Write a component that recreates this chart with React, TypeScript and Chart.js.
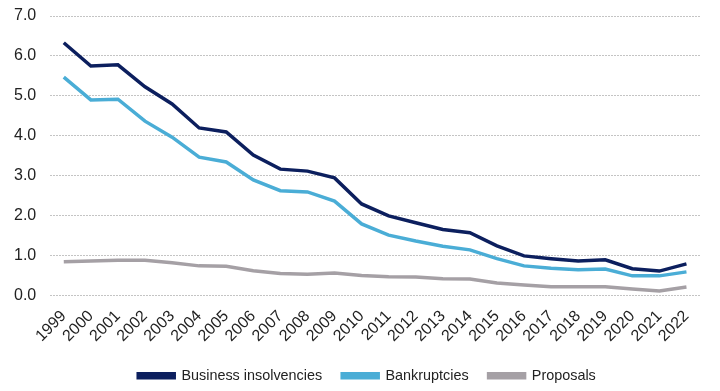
import React, { useEffect, useRef } from "react";
import { Chart, registerables } from "chart.js";

Chart.register(...registerables);

const years = ["1999","2000","2001","2002","2003","2004","2005","2006","2007","2008","2009","2010","2011","2012","2013","2014","2015","2016","2017","2018","2019","2020","2021","2022"];
const businessInsolvencies = [6.33, 5.75, 5.78, 5.23, 4.8, 4.2, 4.1, 3.52, 3.17, 3.12, 2.95, 2.3, 2.0, 1.83, 1.66, 1.58, 1.25, 1.0, 0.93, 0.87, 0.9, 0.68, 0.62, 0.8];
const bankruptcies = [5.47, 4.9, 4.92, 4.37, 3.97, 3.47, 3.35, 2.9, 2.63, 2.6, 2.37, 1.8, 1.52, 1.37, 1.24, 1.15, 0.93, 0.75, 0.69, 0.65, 0.67, 0.5, 0.5, 0.6];
const proposals = [0.85, 0.87, 0.89, 0.89, 0.83, 0.75, 0.74, 0.63, 0.56, 0.54, 0.57, 0.51, 0.48, 0.47, 0.43, 0.42, 0.32, 0.27, 0.23, 0.23, 0.23, 0.17, 0.12, 0.22];

const legendShift = {
  id: "legendShift",
  afterLayout(chart: any) {
    const lg = chart.legend;
    if (lg) {
      lg.left += 17;
      lg.right += 17;
    }
  },
};

export default function App() {
  const ref = useRef<HTMLCanvasElement | null>(null);
  useEffect(() => {
    document.body.style.margin = "0";
    const font = "'Liberation Sans', Arial, sans-serif";
    const mk = (label: string, data: number[], color: string) => ({
      label,
      data,
      borderColor: color,
      backgroundColor: color,
      borderWidth: 3.5,
      pointRadius: 0,
      tension: 0,
      fill: false,
    });
    const chart = new Chart(ref.current!, {
      type: "line",
      data: {
        labels: years,
        datasets: [
          mk("Business insolvencies", businessInsolvencies, "#0c1f5e"),
          mk("Bankruptcies", bankruptcies, "#4aadd6"),
          mk("Proposals", proposals, "#a5a0a5"),
        ],
      },
      plugins: [legendShift],
      options: {
        animation: false,
        responsive: false,
        maintainAspectRatio: false,
        layout: { padding: { left: 0, right: 20, top: 0, bottom: -2 } },
        plugins: {
          tooltip: { enabled: false },
          legend: {
            position: "bottom",
            labels: {
              font: { family: font, size: 14.4 },
              color: "#222",
              boxWidth: 36,
              boxHeight: 4,
              padding: 20,
            },
          },
        },
        scales: {
          x: {
            offset: true,
            grid: { display: false },
            border: { display: false },
            ticks: {
              font: { family: font, size: 16 },
              color: "#222",
              maxRotation: 45,
              minRotation: 45,
              autoSkip: false,
              padding: 3,
            },
          },
          y: {
            min: 0,
            max: 7,
            afterFit: (s: any) => {
              s.paddingTop = 16;
            },
            grid: {
              color: "#c4c4c4",
              drawTicks: false,
            },
            border: { display: false, dash: [2, 1] },
            ticks: {
              stepSize: 1,
              font: { family: font, size: 16 },
              color: "#222",
              padding: 14,
              callback: (v: any) => Number(v).toFixed(1),
            },
          },
        },
      },
    });
    return () => chart.destroy();
  }, []);
  return (
    <div style={{ width: 720, height: 391 }}>
      <canvas ref={ref} width={720} height={391} style={{ display: "block" }} />
    </div>
  );
}
